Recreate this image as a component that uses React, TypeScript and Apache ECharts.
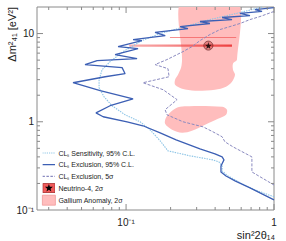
import React, { useEffect, useRef } from 'react';
import * as echarts from 'echarts';

// ---- axis ranges ----
const X_MIN = 0.025;
const X_MAX = 1;
const Y_MIN = 0.1;
const Y_MAX = 20;

// ---- tick values ----
const xMajorTicks = [0.1, 1];
const xMinorTicks = [0.03, 0.04, 0.05, 0.06, 0.07, 0.08, 0.09, 0.2, 0.3, 0.4, 0.5, 0.6, 0.7, 0.8, 0.9];
const yMajorTicks = [1, 10];
const yMinorTicks = [0.2, 0.3, 0.4, 0.5, 0.6, 0.7, 0.8, 0.9, 2, 3, 4, 5, 6, 7, 8, 9];
const xLabelExps = [-1, 0];
const xLabelTexts = ['10⁻¹', '1'];
const yLabelExps = [-1, 0, 1];
const yLabelTexts = ['10⁻¹', '1', '10'];

// ---- series names ----
const sensName = 'CLₛ Sensitivity, 95% C.L.';
const exclName = 'CLₛ Exclusion, 95% C.L.';
const excl5Name = 'CLₛ Exclusion, 5σ';
const n4Name = 'Neutrino-4, 2σ';
const gaName = 'Gallium Anomaly, 2σ';

// ---- data: [sin^2 2theta14, dm^2_41] ----
const excl95: number[][] = [
  [1.0, 19.7], [0.744, 18.7], [0.83, 17.8], [0.589, 16.9], [0.688, 16.0], [0.446, 15.2],
  [0.52, 14.4], [0.316, 13.7], [0.369, 13.0], [0.232, 12.0], [0.262, 11.4], [0.157, 10.3],
  [0.184, 9.49], [0.1115, 8.54], [0.128, 8.32], [0.0883, 7.11], [0.1205, 6.76], [0.0843, 5.77],
  [0.1187, 5.2], [0.0637, 4.93], [0.0528, 4.45], [0.094, 4.11], [0.0985, 3.51], [0.0722, 3.24],
  [0.0438, 2.77], [0.0668, 2.25], [0.1115, 1.82], [0.078, 1.52], [0.0626, 1.26], [0.07, 1.14],
  [0.1016, 1.0], [0.13, 0.901], [0.17, 0.75], [0.218, 0.624], [0.316, 0.493], [0.399, 0.433],
  [0.446, 0.4], [0.459, 0.37], [0.438, 0.316], [0.438, 0.27], [0.474, 0.243], [0.545, 0.214],
  [0.688, 0.178], [1.0, 0.13],
];

const sens95: number[][] = [
  [0.83, 20.0], [0.589, 17.3], [0.369, 14.4], [0.2505, 12.0], [0.17, 10.0], [0.128, 8.32],
  [0.0955, 6.24], [0.078, 4.81], [0.0689, 3.9], [0.0657, 3.0], [0.0657, 2.43], [0.071, 1.92],
  [0.0804, 1.52], [0.0985, 1.2], [0.1244, 1.0], [0.1453, 0.811], [0.17, 0.608], [0.192, 0.468],
  [0.2707, 0.411], [0.387, 0.37], [0.424, 0.351], [0.446, 0.316], [0.446, 0.277], [0.489, 0.243],
  [0.589, 0.203], [0.744, 0.169], [1.0, 0.141],
];

const excl5s: number[][] = [
  [1.0, 17.8], [0.804, 15.6], [0.688, 14.4], [0.589, 13.0], [0.504, 12.0], [0.4315, 11.1],
  [0.369, 9.75], [0.316, 8.32], [0.279, 7.11], [0.2426, 6.24], [0.189, 5.07], [0.157, 4.45],
  [0.192, 4.0], [0.1954, 3.24], [0.13, 2.77], [0.178, 2.31], [0.2213, 1.78], [0.1836, 1.37],
  [0.189, 1.2], [0.2426, 1.0], [0.331, 0.877], [0.387, 0.769], [0.446, 0.676], [0.466, 0.593],
  [0.528, 0.52], [0.709, 0.4], [0.709, 0.27], [1.0, 0.192],
];

const galliumUpper: number[][] = [
  [0.239, 25], [0.562, 25], [0.562, 5.07], [0.528, 4.56], [0.528, 3.9], [0.545, 3.42],
  [0.52, 2.85], [0.474, 2.5], [0.399, 2.31], [0.2926, 2.25], [0.239, 2.37], [0.2144, 2.63],
  [0.2144, 3.0], [0.2244, 3.42], [0.2355, 4.11], [0.239, 5.07],
];
const galliumLower: number[][] = [
  [0.2317, 1.48], [0.446, 1.48], [0.481, 1.37], [0.474, 1.2], [0.418, 1.08], [0.342, 0.924],
  [0.279, 0.791], [0.239, 0.75], [0.2046, 0.811], [0.1836, 0.949], [0.186, 1.11], [0.2046, 1.33],
];
const galliumRegions = [galliumUpper, galliumLower];

const n4Wide: number[][] = [[0.105, 7.1], [0.52, 7.1], [0.52, 7.5], [0.105, 7.5]];
const n4Thin: number[][] = [[0.198, 8.92], [0.555, 8.92], [0.555, 9.1], [0.198, 9.1]];
const n4Regions = [n4Wide, n4Thin];
const n4BestFit = [0.36, 7.3];

const FONT = 'Liberation Sans, Arial, Helvetica, sans-serif';
const GA_COLOR = '#ffbdbd';
const N4_COLOR = '#f04848';
const SENS_COLOR = '#8ec5e6';
const EXCL_COLOR = '#3c5fb4';
const EXCL5_COLOR = '#8a8ac0';

function svgIcon(inner: string) {
  const svg =
    "<svg xmlns='http://www.w3.org/2000/svg' width='13' height='10' viewBox='0 0 13 10'>" + inner + '</svg>';
  return 'image://data:image/svg+xml;charset=utf-8,' + encodeURIComponent(svg);
}
const n4Icon = svgIcon(
  "<rect x='0.5' y='0.5' width='12' height='9' fill='#f05a5a' stroke='#a83030' stroke-width='0.8'/>" +
    "<polygon points='6.5,0.8 7.5,3.62 10.49,3.7 8.12,5.53 8.97,8.4 6.5,6.7 4.03,8.4 4.88,5.53 2.51,3.7 5.5,3.62' fill='#000'/>"
);
const sensIcon = svgIcon(
  `<line x1='0' y1='5' x2='13' y2='5' stroke='${SENS_COLOR}' stroke-width='1.2' stroke-dasharray='1.2,1'/>`
);
const exclIcon = svgIcon(`<line x1='0' y1='5' x2='13' y2='5' stroke='${EXCL_COLOR}' stroke-width='1.3'/>`);
const excl5Icon = svgIcon(
  `<line x1='0' y1='5' x2='13' y2='5' stroke='${EXCL5_COLOR}' stroke-width='1.1' stroke-dasharray='2.5,1.5'/>`
);

const STAR_PATH = 'path://M50,5 L61,39 L97,39 L68,60 L79,95 L50,74 L21,95 L32,60 L3,39 L39,39 Z';

function labelFmt(exps: number[], texts: string[]) {
  return (v: number) => {
    const e = Math.log10(v);
    const r = Math.round(e);
    if (Math.abs(e - r) > 1e-6) return '';
    const i = exps.indexOf(r);
    return i >= 0 ? texts[i] : '';
  };
}

// tick items: [x, y, kind] kind 0=x minor,1=x major,2=y minor,3=y major
const tickItems: number[][] = [
  ...xMinorTicks.map((v) => [v, Y_MIN, 0]),
  ...xMajorTicks.map((v) => [v, Y_MIN, 1]),
  ...yMinorTicks.map((v) => [X_MIN, v, 2]),
  ...yMajorTicks.map((v) => [X_MIN, v, 3]),
];

export default function App() {
  const ref = useRef<HTMLDivElement>(null);
  useEffect(() => {
    if (!ref.current) return;
    const chart = echarts.init(ref.current, undefined, { renderer: 'svg' });
    const tickStyle = { stroke: '#8a8a8a', lineWidth: 1 };
    const n4Gradient = new echarts.graphic.LinearGradient(0, 0, 1, 0, [
      { offset: 0, color: 'rgba(245,110,110,0.55)' },
      { offset: 1, color: 'rgba(235,50,50,0.9)' },
    ]);
    const option: any = {
      animation: false,
      grid: {
        left: 37, right: 12, top: 7, bottom: 31, show: true,
        borderColor: '#8a8a8a', borderWidth: 1, containLabel: false, outerBoundsMode: 'none',
      },
      xAxis: {
        type: 'log', logBase: 10, min: X_MIN, max: X_MAX,
        axisLine: { show: false }, axisTick: { show: false }, splitLine: { show: false },
        axisLabel: {
          formatter: labelFmt(xLabelExps, xLabelTexts), fontSize: 10, color: '#222',
          margin: 7, fontFamily: FONT, showMinLabel: false, showMaxLabel: true, hideOverlap: false,
        },
      },
      yAxis: {
        type: 'log', logBase: 10, min: Y_MIN, max: Y_MAX,
        axisLine: { show: false }, axisTick: { show: false }, splitLine: { show: false },
        axisLabel: {
          formatter: labelFmt(yLabelExps, yLabelTexts), fontSize: 10, color: '#222',
          margin: 3, fontFamily: FONT, showMinLabel: true, showMaxLabel: false, hideOverlap: false,
        },
      },
      legend: {
        orient: 'vertical', left: 42, top: 148, padding: 0, itemGap: 1.7,
        itemWidth: 13, itemHeight: 10, selectedMode: false,
        textStyle: { fontSize: 7, color: '#222', fontFamily: FONT, padding: [0, 0, 0, -2] },
        data: [
          { name: sensName, icon: sensIcon },
          { name: exclName, icon: exclIcon },
          { name: excl5Name, icon: excl5Icon },
          { name: n4Name, icon: n4Icon },
          { name: gaName, icon: 'rect', itemStyle: { color: GA_COLOR, borderColor: '#f09a9a', borderWidth: 0.8 } },
        ],
      },
      graphic: [
        {
          type: 'text', x: 12, y: 7, rotation: Math.PI / 2,
          style: {
            text: 'Δm²₄₁ [eV²]', fontSize: 11, fontFamily: FONT, fill: '#222',
            align: 'right', verticalAlign: 'middle', textAlign: 'right', textVerticalAlign: 'middle',
          },
        },
        {
          type: 'text', x: 275, y: 229,
          style: {
            text: 'sin²2θ₁₄', fontSize: 11, fontFamily: FONT, fill: '#222',
            align: 'right', verticalAlign: 'top', textAlign: 'right', textVerticalAlign: 'top',
          },
        },
      ],
      series: [
        {
          name: gaName, type: 'custom', clip: true, z: 1,
          itemStyle: { color: GA_COLOR },
          data: galliumRegions.map((r) => r[0]),
          renderItem: (params: any, api: any) => {
            const poly = galliumRegions[params.dataIndex];
            return {
              type: 'polygon',
              shape: { points: poly.map((p) => api.coord(p)), smooth: 0.3 },
              style: { fill: GA_COLOR },
            };
          },
        },
        {
          name: n4Name, type: 'custom', clip: true, z: 2,
          itemStyle: { color: N4_COLOR },
          data: n4Regions.map((r) => r[0]),
          renderItem: (params: any, api: any) => {
            const poly = n4Regions[params.dataIndex];
            return {
              type: 'polygon',
              shape: { points: poly.map((p) => api.coord(p)) },
              style: { fill: params.dataIndex === 0 ? n4Gradient : 'rgba(240,70,70,0.8)' },
            };
          },
        },
        {
          name: sensName, type: 'line', z: 3, symbol: 'none', showSymbol: false, clip: true,
          data: sens95,
          itemStyle: { color: SENS_COLOR },
          lineStyle: { color: SENS_COLOR, width: 1.1, type: [1.5, 1] },
        },
        {
          name: excl5Name, type: 'line', z: 3, symbol: 'none', showSymbol: false, clip: true,
          data: excl5s,
          itemStyle: { color: EXCL5_COLOR },
          lineStyle: { color: EXCL5_COLOR, width: 1, type: [3, 1.5] },
        },
        {
          name: exclName, type: 'line', z: 4, symbol: 'none', showSymbol: false, clip: true,
          data: excl95,
          itemStyle: { color: EXCL_COLOR },
          lineStyle: { color: EXCL_COLOR, width: 1.3 },
        },
        {
          name: 'Neutrino-4 ring', type: 'scatter', z: 5, symbol: 'circle', symbolSize: 9,
          data: [n4BestFit],
          itemStyle: { color: 'rgba(200,50,50,0.55)', borderColor: '#5a1a1a', borderWidth: 0.8 },
        },
        {
          name: 'Neutrino-4 best fit', type: 'scatter', z: 6, symbol: STAR_PATH, symbolSize: 7,
          data: [n4BestFit],
          itemStyle: { color: '#000' },
        },
        {
          name: 'ticks', type: 'custom', z: 7, clip: false, silent: true,
          data: tickItems,
          renderItem: (params: any, api: any) => {
            const kind = api.value(2);
            const len = kind === 1 || kind === 3 ? 6 : 3;
            if (kind < 2) {
              const v = api.value(0);
              const b = api.coord([v, Y_MIN]);
              const t = api.coord([v, Y_MAX]);
              return {
                type: 'group',
                children: [
                  { type: 'line', shape: { x1: b[0], y1: b[1], x2: b[0], y2: b[1] - len }, style: tickStyle },
                  { type: 'line', shape: { x1: t[0], y1: t[1], x2: t[0], y2: t[1] + len }, style: tickStyle },
                ],
              };
            }
            const v = api.value(1);
            const l = api.coord([X_MIN, v]);
            const r = api.coord([X_MAX, v]);
            return {
              type: 'group',
              children: [
                { type: 'line', shape: { x1: l[0], y1: l[1], x2: l[0] + len, y2: l[1] }, style: tickStyle },
                { type: 'line', shape: { x1: r[0], y1: r[1], x2: r[0] - len, y2: r[1] }, style: tickStyle },
              ],
            };
          },
        },
      ],
    };
    chart.setOption(option);
    return () => chart.dispose();
  }, []);
  return (
    <div
      ref={ref}
      style={{ position: 'absolute', left: 0, top: 0, width: 286, height: 241, background: '#fff' }}
    />
  );
}
